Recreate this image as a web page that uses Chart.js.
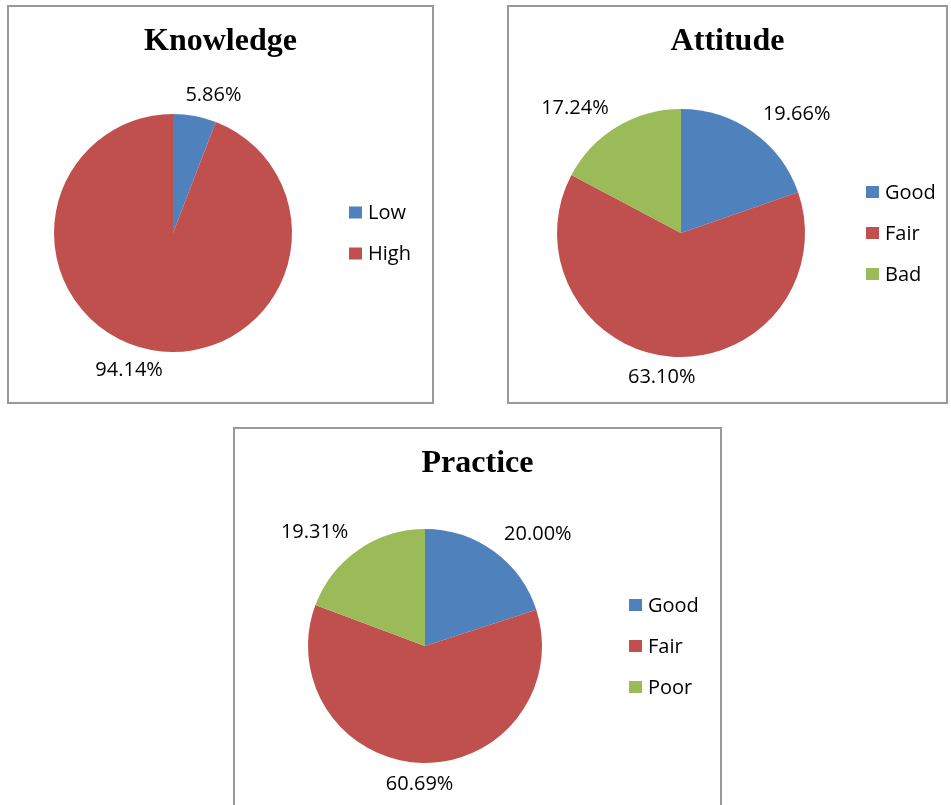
<!DOCTYPE html>
<html>
<head>
<meta charset="utf-8">
<script src="https://cdn.jsdelivr.net/npm/chart.js@4.4.1/dist/chart.umd.min.js"></script>
<style>
  html, body { margin: 0; padding: 0; background: #fff; width: 951px; height: 805px; overflow: hidden; }
  .panel { position: absolute; border: 2px solid #999; box-sizing: border-box; background: #fff; }
  .panel canvas { position: absolute; left: 0; top: 0; }
</style>
</head>
<body>
<div class="panel" id="p1"><canvas id="c1"></canvas></div>
<div class="panel" id="p2"><canvas id="c2"></canvas></div>
<div class="panel" id="p3"><canvas id="c3"></canvas></div>
<script>
// ---- data ----
const knowledgeTitle = "Knowledge";
const knowledgeCategories = ["Low", "High"];
const knowledgeValues = [5.86, 94.14];

const attitudeTitle = "Attitude";
const attitudeCategories = ["Good", "Fair", "Bad"];
const attitudeValues = [19.66, 63.10, 17.24];

const practiceTitle = "Practice";
const practiceCategories = ["Good", "Fair", "Poor"];
const practiceValues = [20.00, 60.69, 19.31];

const sliceColors = ["#4F81BD", "#C0504D", "#9BBB59"];

// ---- layout (panel boxes on page, pie centre/radius inside panel canvas, legend x) ----
const layouts = [
  { id: "p1", canvas: "c1", left: 7, top: 5, width: 427, height: 399, cx: 164, cy: 226, r: 119, legendX: 340, titleY: 35 },
  { id: "p2", canvas: "c2", left: 507, top: 5, width: 441, height: 399, cx: 172, cy: 226, r: 124, legendX: 357, titleY: 35 },
  { id: "p3", canvas: "c3", left: 233, top: 427, width: 489, height: 400, cx: 190, cy: 217, r: 117, legendX: 394, titleY: 35 }
];

const charts = [
  { title: knowledgeTitle, labels: knowledgeCategories, values: knowledgeValues },
  { title: attitudeTitle, labels: attitudeCategories, values: attitudeValues },
  { title: practiceTitle, labels: practiceCategories, values: practiceValues }
];

const labelFont = '20px "Open Sans"';
const titleFont = 'bold 32px "Liberation Serif"';

const overlayPlugin = {
  id: 'overlay',
  afterDraw(chart, args, opts) {
    const ctx = chart.ctx;
    const L = opts.layout;
    ctx.save();
    // title
    ctx.font = titleFont;
    ctx.fillStyle = '#000';
    ctx.textAlign = 'center';
    ctx.textBaseline = 'middle';
    ctx.fillText(opts.title, chart.width / 2 + (opts.titleShift || 0), L.titleY);

    // data labels (outside end, box offset outward)
    const meta = chart.getDatasetMeta(0);
    ctx.font = labelFont;
    ctx.fillStyle = '#000';
    meta.data.forEach((arc, i) => {
      const p = arc.getProps(['x', 'y', 'startAngle', 'endAngle', 'outerRadius'], true);
      const mid = (p.startAngle + p.endAngle) / 2;
      const dx = Math.cos(mid), dy = Math.sin(mid);
      const txt = chart.data.datasets[0].data[i].toFixed(2) + '%';
      const w = ctx.measureText(txt).width;
      const hw = w / 2, hh = 11;
      const rr = p.outerRadius + 10;
      const x = p.x + dx * rr + 1.2 * Math.tanh(3 * dx) * hw;
      const y = p.y + dy * rr + dy * hh;
      ctx.fillText(txt, x, y);
    });

    // legend
    const labels = chart.data.labels;
    const n = labels.length;
    const spacing = 41;
    const startY = L.cy - (n - 1) * spacing / 2;
    ctx.textAlign = 'left';
    labels.forEach((lab, i) => {
      const yy = startY + i * spacing;
      ctx.fillStyle = sliceColors[i];
      ctx.fillRect(L.legendX, yy - 6, 13, 12);
      ctx.fillStyle = '#000';
      ctx.fillText(lab, L.legendX + 19, yy + 1);
    });
    ctx.restore();
  }
};

charts.forEach((c, k) => {
  const L = layouts[k];
  const div = document.getElementById(L.id);
  div.style.left = L.left + 'px';
  div.style.top = L.top + 'px';
  div.style.width = L.width + 'px';
  div.style.height = L.height + 'px';
  const innerW = L.width - 4, innerH = L.height - 4;
  const cv = document.getElementById(L.canvas);
  cv.width = innerW; cv.height = innerH;
  cv.style.width = innerW + 'px'; cv.style.height = innerH + 'px';
  new Chart(cv, {
    type: 'pie',
    data: {
      labels: c.labels,
      datasets: [{
        data: c.values,
        backgroundColor: sliceColors.slice(0, c.values.length),
        borderWidth: 0
      }]
    },
    options: {
      responsive: false,
      animation: false,
      layout: {
        padding: {
          left: L.cx - L.r,
          top: L.cy - L.r,
          right: innerW - L.cx - L.r,
          bottom: innerH - L.cy - L.r
        }
      },
      plugins: {
        legend: { display: false },
        title: { display: false },
        tooltip: { enabled: false },
        overlay: { title: c.title, layout: L }
      }
    },
    plugins: [overlayPlugin]
  });
});
</script>
</body>
</html>
